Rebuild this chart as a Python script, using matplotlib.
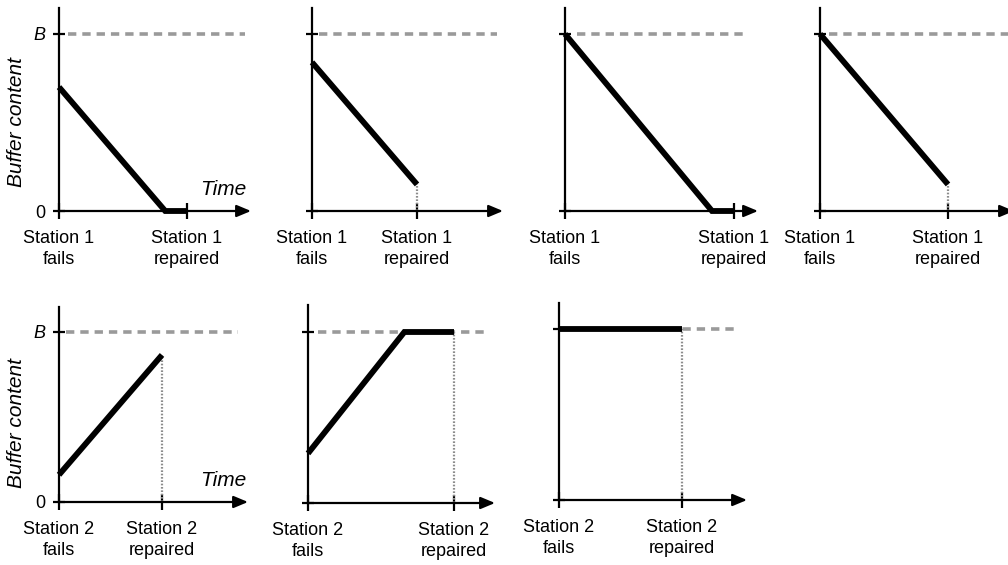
import matplotlib
matplotlib.use("Agg")
import matplotlib.pyplot as plt

plt.rcParams['font.family'] = ['Liberation Sans', 'DejaVu Sans']
plt.rcParams['lines.scale_dashes'] = False

# ---- data (time: failure = 0, repair = 1; buffer level: 0 .. B = 1) ----
B = 1.0
times_p1 = [0.0, 0.83, 1.0]
level_p1 = [0.70, 0.0, 0.0]
times_p2 = [0.0, 1.0]
level_p2 = [0.84, 0.15]
times_p3 = [0.0, 0.87, 1.0]
level_p3 = [1.0, 0.0, 0.0]
times_p4 = [0.0, 1.0]
level_p4 = [1.0, 0.15]
times_p5 = [0.0, 1.0]
level_p5 = [0.16, 0.865]
times_p6 = [0.0, 0.66, 1.0]
level_p6 = [0.29, 1.0, 1.0]
times_p7 = [0.0, 1.0]
level_p7 = [1.0, 1.0]

station_top = "Station 1"
station_bottom = "Station 2"
fail_word = "fails"
repair_word = "repaired"
ylabel_text = "Buffer content"
xlabel_text = "Time"
ytick_labels = ["0", "B"]

# ---- layout (pixel geometry) ----
W, H = 1008, 565
fig = plt.figure(figsize=(W / 100, H / 100), dpi=100)

panels = [
    dict(t=times_p1, v=level_p1, st=station_top, yx=59, rx=187, xend=251, ax_y=211, b_y=34, top=8, dash=245, first=True),
    dict(t=times_p2, v=level_p2, st=station_top, yx=312, rx=417, xend=503, ax_y=211, b_y=34, top=8, dash=497, first=False),
    dict(t=times_p3, v=level_p3, st=station_top, yx=565, rx=734, xend=758, ax_y=211, b_y=34, top=8, dash=748, first=False),
    dict(t=times_p4, v=level_p4, st=station_top, yx=820, rx=948, xend=1014, ax_y=211, b_y=34, top=8, dash=1010, first=False),
    dict(t=times_p5, v=level_p5, st=station_bottom, yx=59, rx=162, xend=248, ax_y=502, b_y=332, top=307, dash=238, first=True),
    dict(t=times_p6, v=level_p6, st=station_bottom, yx=308, rx=454, xend=495, ax_y=503, b_y=332, top=305, dash=487, first=False),
    dict(t=times_p7, v=level_p7, st=station_bottom, yx=559, rx=682, xend=747, ax_y=500, b_y=329, top=303, dash=738, first=False),
]

PX = 0.72  # points per pixel at dpi 100

for p in panels:
    unit = p['rx'] - p['yx']
    yunit = p['ax_y'] - p['b_y']
    rect = [p['yx'] / W, (H - p['ax_y']) / H,
            (p['xend'] - p['yx']) / W, (p['ax_y'] - p['top']) / H]
    ax = fig.add_axes(rect)
    ax.set_facecolor('none')
    ax.set_xlim(0, (p['xend'] - p['yx']) / unit)
    ax.set_ylim(0, (p['ax_y'] - p['top']) / yunit)
    for s in ['top', 'right', 'bottom']:
        ax.spines[s].set_visible(False)
    ax.spines['left'].set_linewidth(1.6)
    ax.spines['left'].set_color('black')

    # x axis with arrow
    ax.annotate('', xy=(1, 0), xytext=(0, 0), xycoords='axes fraction',
                arrowprops=dict(arrowstyle='-|>,head_length=0.86,head_width=0.36',
                                mutation_scale=10, lw=1.6, color='black',
                                shrinkA=0, shrinkB=0))

    ax.set_xticks([0, 1])
    ax.set_xticklabels([])
    ax.tick_params(axis='x', direction='inout', length=12, width=1.6, color='black')
    ax.set_yticks([0, B])
    ax.tick_params(axis='y', direction='inout', length=8, width=1.6, color='black',
                   pad=6, labelsize=13)
    if p['first']:
        ax.set_yticklabels(ytick_labels)
        ax.get_yticklabels()[1].set_fontstyle('italic')
    else:
        ax.set_yticklabels([])

    # capacity B dashed line
    dash_end = (p['dash'] - p['yx']) / unit
    ln, = ax.plot([0.07, dash_end], [B, B], color='#9a9a9a', lw=2.6,
                  solid_capstyle='butt', clip_on=False)
    ln.set_dashes([6, 4.3])
    ln.set_dash_capstyle('butt')

    # dotted line down from level at repair time
    end_level = p['v'][-1]
    if end_level > 0:
        ax.plot([1, 1], [0, end_level], color='#8c8c8c', lw=1.6,
                linestyle=(0, (1.2, 1.2)), clip_on=False)

    # buffer content trajectory
    ax.plot(p['t'], p['v'], color='black', lw=4.2, solid_capstyle='butt',
            solid_joinstyle='miter', clip_on=False, zorder=5)

    # station labels
    for xv, word in [(0, fail_word), (1, repair_word)]:
        ax.annotate(p['st'] + "\n" + word, xy=(xv, 0),
                    xycoords=('data', 'axes fraction'),
                    xytext=(0, -19 * PX), textcoords='offset points',
                    ha='center', va='top', fontsize=13, linespacing=1.28)

    if p['first']:
        tx = (223 - p['yx']) / unit
        ax.annotate(xlabel_text, xy=(tx, 0), xycoords=('data', 'axes fraction'),
                    xytext=(0, 12 * PX), textcoords='offset points',
                    ha='center', va='bottom', fontsize=15, fontstyle='italic')

fig.text(17 / W, (H - 122) / H, ylabel_text, rotation=90, ha='center', va='center',
         fontsize=15, fontstyle='italic')
fig.text(17 / W, (H - 423) / H, ylabel_text, rotation=90, ha='center', va='center',
         fontsize=15, fontstyle='italic')

fig.savefig('out.png', dpi=100, facecolor='white')
